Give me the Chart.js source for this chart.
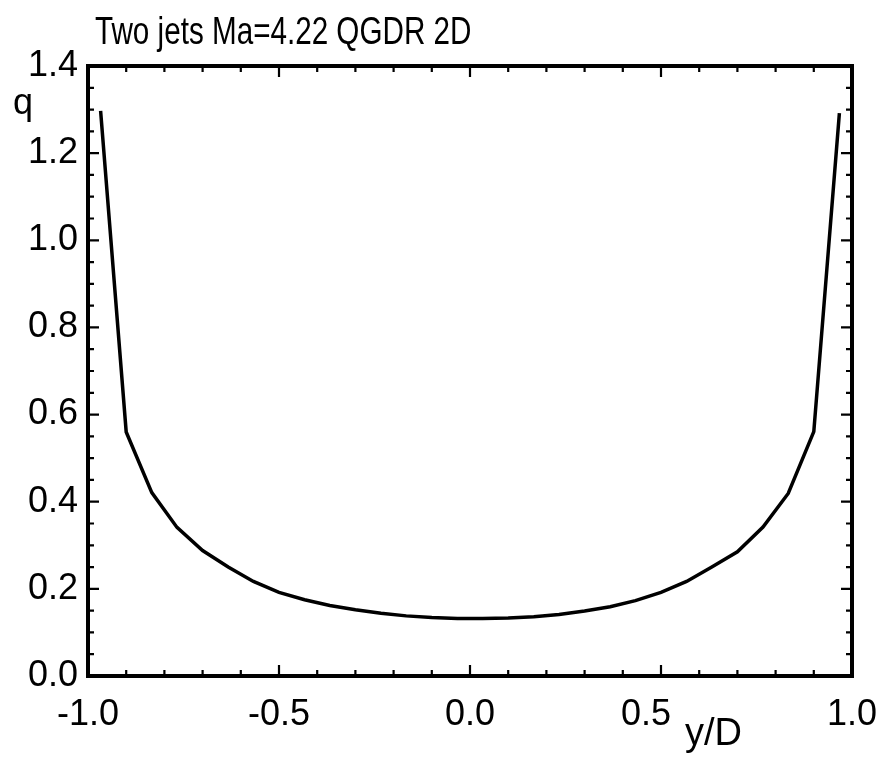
<!DOCTYPE html>
<html>
<head>
<meta charset="utf-8">
<script src="https://cdn.jsdelivr.net/npm/chart.js@4.4.1/dist/chart.umd.min.js"></script>
<style>
  html, body { margin: 0; padding: 0; background: #fff; }
  #wrap { width: 879px; height: 758px; }
</style>
</head>
<body>
<div id="wrap"><canvas id="chart" width="879" height="758"></canvas></div>
<script>
const TITLE = "Two jets Ma=4.22 QGDR 2D";
const X_LABEL = "y/D";
const Y_LABEL = "q";

// cell centres
const yD = [
  -0.967, -0.9, -0.833, -0.767, -0.7, -0.633, -0.567, -0.5, -0.433, -0.367,
  -0.3, -0.233, -0.167, -0.1, -0.033, 0.033, 0.1, 0.167, 0.233, 0.3,
  0.367, 0.433, 0.5, 0.567, 0.633, 0.7, 0.767, 0.833, 0.9, 0.967,
];
const q = [
  1.297, 0.56, 0.421, 0.341, 0.288, 0.25, 0.217, 0.192, 0.175, 0.162,
  0.152, 0.144, 0.138, 0.134, 0.132, 0.132, 0.133, 0.136, 0.141, 0.149,
  0.159, 0.173, 0.192, 0.217, 0.25, 0.285, 0.342, 0.419, 0.561, 1.292,
];

const xTicks = [-1.0, -0.5, 0.0, 0.5, 1.0];
const yTicks = [0.0, 0.2, 0.4, 0.6, 0.8, 1.0, 1.2, 1.4];

const FONT = "'Liberation Sans', Arial, Helvetica, sans-serif";

// inward ticks on all four sides, the box, and the loose labels
const framePlugin = {
  id: "frame",
  afterDraw(chart) {
    const { ctx, chartArea: a } = chart;
    const x = chart.scales.x, y = chart.scales.y;
    ctx.save();
    ctx.strokeStyle = "#000";
    ctx.lineWidth = 2.2;
    ctx.beginPath();
    for (let i = 0; i <= 20; i++) {
      const px = x.getPixelForValue(-1 + i * 0.1);
      const len = i % 5 === 0 ? 11 : 6;
      ctx.moveTo(px, a.bottom); ctx.lineTo(px, a.bottom - len);
      ctx.moveTo(px, a.top); ctx.lineTo(px, a.top + len);
    }
    for (let i = 0; i <= 28; i++) {
      const py = y.getPixelForValue(i * 0.05);
      const len = i % 4 === 0 ? 11 : 6;
      ctx.moveTo(a.left, py); ctx.lineTo(a.left + len, py);
      ctx.moveTo(a.right, py); ctx.lineTo(a.right - len, py);
    }
    ctx.stroke();
    ctx.lineWidth = 4;
    ctx.strokeRect(a.left, a.top, a.right - a.left, a.bottom - a.top);

    ctx.fillStyle = "#000";
    ctx.textBaseline = "alphabetic";
    ctx.textAlign = "left";
    ctx.font = "36px " + FONT;
    ctx.fillText(Y_LABEL, 13, 114);
    ctx.font = "38px " + FONT;
    ctx.fillText(X_LABEL, 685, 745);

    ctx.translate(95, 44);
    ctx.scale(0.78, 1);
    ctx.font = "38px " + FONT;
    ctx.fillText(TITLE, 0, 0);
    ctx.restore();
  },
};

new Chart(document.getElementById("chart"), {
  type: "line",
  data: {
    datasets: [{
      data: yD.map((v, i) => ({ x: v, y: q[i] })),
      borderColor: "#000",
      borderWidth: 3.5,
      pointRadius: 0,
      tension: 0,
      fill: false,
    }],
  },
  options: {
    responsive: false,
    animation: false,
    devicePixelRatio: 1,
    layout: { padding: { left: 0, top: 66, right: 27, bottom: 0 } },
    plugins: { legend: { display: false }, title: { display: false }, tooltip: { enabled: false } },
    scales: {
      x: {
        type: "linear",
        min: -1,
        max: 1,
        afterBuildTicks: (s) => { s.ticks = xTicks.map((v) => ({ value: v })); },
        afterFit: (s) => { s.height = 82; s.paddingLeft = 0; s.paddingRight = 0; },
        grid: { display: false, drawTicks: false },
        border: { display: false },
        ticks: {
          padding: 17,
          color: "#000",
          font: { family: FONT, size: 36 },
          maxRotation: 0,
          // the 0.5 label sits a little left to make room for y/D
          callback: (v) => (v === 0.5 ? "0.5   " : Number(v).toFixed(1)),
        },
      },
      y: {
        min: 0,
        max: 1.4,
        afterBuildTicks: (s) => { s.ticks = yTicks.map((v) => ({ value: v })); },
        afterFit: (s) => { s.width = 88; s.paddingTop = 0; s.paddingBottom = 0; },
        grid: { display: false, drawTicks: false },
        border: { display: false },
        ticks: {
          padding: 10,
          color: "#000",
          font: { family: FONT, size: 36 },
          callback: (v) => Number(v).toFixed(1),
        },
      },
    },
  },
  plugins: [framePlugin],
});
</script>
</body>
</html>
